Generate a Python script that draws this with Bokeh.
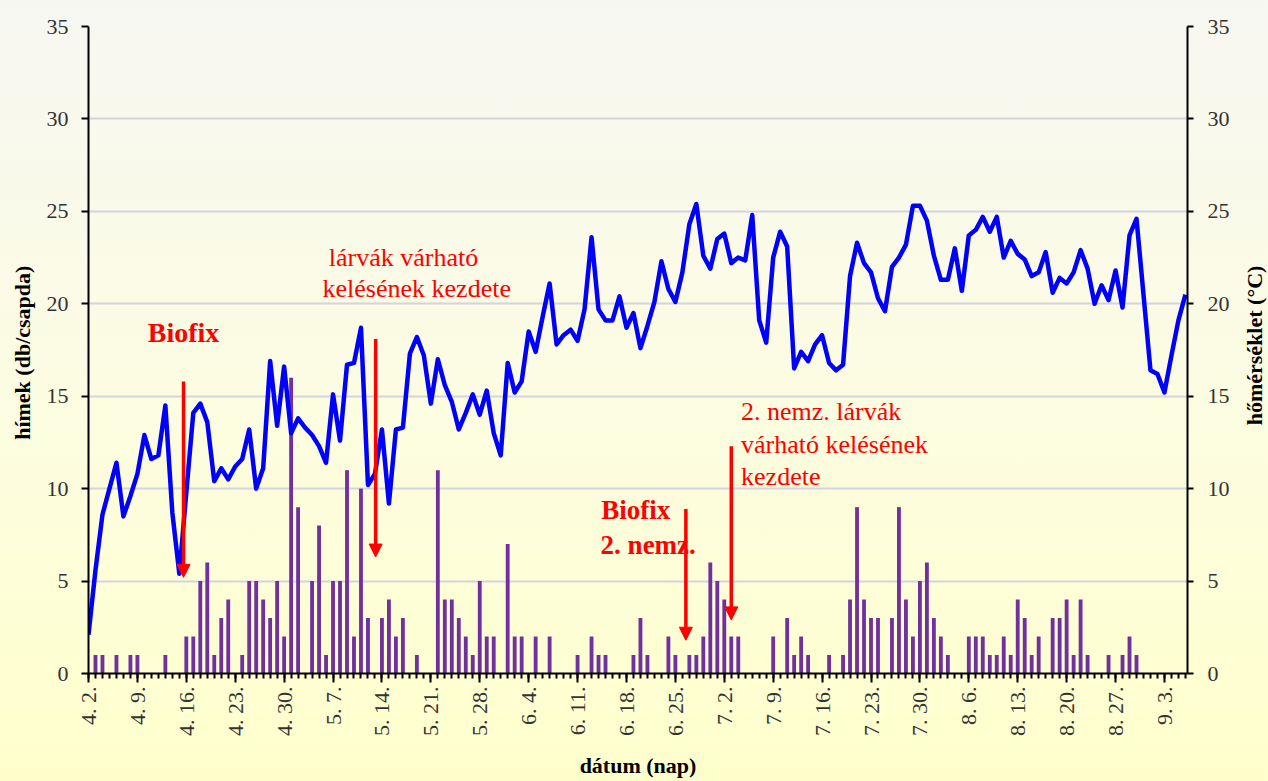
from math import pi
from bokeh.plotting import figure
from bokeh.layouts import row
from bokeh.models import Range1d, LinearAxis, FixedTicker, Label, Arrow, NormalHead
from bokeh.embed import file_html
from bokeh.resources import INLINE

# ---- data -------------------------------------------------------------
# daily mean temperature (°C), day 0 = 4.2. ... day 157 = 9.6.
temperature = [
    2.1, 5.6, 8.6, 10.0, 11.4, 8.5, 9.6, 10.8, 12.9, 11.6,
    11.8, 14.5, 8.7, 5.4, 9.8, 14.1, 14.6, 13.6, 10.4, 11.1,
    10.5, 11.2, 11.6, 13.2, 10.0, 11.1, 16.9, 13.4, 16.6, 13.0,
    13.8, 13.3, 12.9, 12.3, 11.4, 15.1, 12.6, 16.7, 16.8, 18.7,
    10.2, 10.8, 13.2, 9.2, 13.2, 13.3, 17.3, 18.2, 17.2, 14.6,
    17.0, 15.6, 14.7, 13.2, 14.1, 15.1, 14.0, 15.3, 13.0, 11.8,
    16.8, 15.2, 15.8, 18.5, 17.4, 19.3, 21.1, 17.8, 18.3, 18.6,
    18.0, 19.7, 23.6, 19.7, 19.1, 19.1, 20.4, 18.7, 19.5, 17.6,
    18.8, 20.1, 22.3, 20.8, 20.1, 21.7, 24.3, 25.4, 22.6, 21.9,
    23.5, 23.8, 22.2, 22.5, 22.35, 24.8, 19.1, 17.9, 22.5, 23.9,
    23.1, 16.5, 17.4, 16.9, 17.8, 18.3, 16.8, 16.4, 16.7, 21.5,
    23.3, 22.2, 21.7, 20.3, 19.6, 22.0, 22.5, 23.2, 25.3, 25.3,
    24.5, 22.6, 21.3, 21.3, 23.0, 20.7, 23.7, 24.0, 24.7, 23.9,
    24.7, 22.5, 23.4, 22.7, 22.4, 21.5, 21.7, 22.8, 20.6, 21.4,
    21.1, 21.7, 22.9, 21.9, 20.0, 21.0, 20.2, 21.8, 19.8, 23.7,
    24.6, 20.5, 16.4, 16.2, 15.2, 17.2, 19.1, 20.5,
]
days = list(range(len(temperature)))

# male catches per trap (only days with catches)
bar_days = [
    1, 2, 4, 6, 7, 11, 14, 15, 16, 17, 18, 19, 20, 22, 23, 24, 25, 26, 27, 28,
    29, 30, 32, 33, 34, 35, 36, 37, 38, 39, 40, 42, 43, 44, 45, 47, 50, 51, 52, 53,
    54, 55, 56, 57, 58, 60, 61, 62, 64, 66, 70, 72, 73, 74, 78, 79, 80, 83, 84, 86,
    87, 88, 89, 90, 91, 92, 93, 98, 100, 101, 102, 103, 106, 108, 109, 110, 111, 112, 113, 115,
    116, 117, 118, 119, 120, 121, 122, 123, 126, 127, 128, 129, 130, 131, 132, 133, 134, 135, 136, 138,
    139, 140, 141, 142, 143, 146, 148, 149, 150,
]
bar_counts = [
    1, 1, 1, 1, 1, 1, 2, 2, 5, 6, 1, 3, 4, 1, 5, 5, 4, 3, 5, 2,
    16, 9, 5, 8, 1, 5, 5, 11, 2, 10, 3, 3, 4, 2, 3, 1, 11, 4, 4, 3,
    2, 1, 5, 2, 2, 7, 2, 2, 2, 2, 1, 2, 1, 1, 1, 3, 1, 2, 1, 1,
    1, 2, 6, 5, 4, 2, 2, 2, 3, 1, 2, 1, 1, 1, 4, 9, 4, 3, 3, 3,
    9, 4, 2, 5, 6, 3, 2, 1, 2, 2, 2, 1, 1, 2, 1, 4, 3, 1, 2, 3,
    3, 4, 1, 4, 1, 1, 1, 2, 1,
]

tick_days = [0, 7, 14, 21, 28, 35, 42, 49, 56, 63, 70, 77, 84, 91, 98, 105,
             112, 119, 126, 133, 140, 147, 154]
tick_labels = ["4. 2.", "4. 9.", "4. 16.", "4. 23.", "4. 30.", "5. 7.", "5. 14.",
               "5. 21.", "5. 28.", "6. 4.", "6. 11.", "6. 18.", "6. 25.", "7. 2.",
               "7. 9.", "7. 16.", "7. 23.", "7. 30.", "8. 6.", "8. 13.", "8. 20.",
               "8. 27.", "9. 3."]
y_ticks = [0, 5, 10, 15, 20, 25, 30, 35]

FONT = "Liberation Serif"
RED = "#FF0000"
BG = {"background": "linear-gradient(to bottom, #F7F7F2 0%, #FCFCE2 50%, #FFFFCC 100%)"}

p = figure(width=1238, height=781, output_backend="svg", toolbar_location=None,
           x_range=Range1d(0, 157.3), y_range=Range1d(0, 35),
           min_border_left=88, min_border_right=51, min_border_top=26,
           min_border_bottom=105,
           background_fill_color=None, border_fill_color=None,
           outline_line_color=None, styles=BG)

p.extra_y_ranges = {"temp": Range1d(0, 35)}

# grid
p.xgrid.visible = False
p.ygrid.ticker = FixedTicker(ticks=y_ticks)
p.ygrid.grid_line_color = "#D4D4DE"
p.ygrid.grid_line_width = 2

# left axis
la = p.yaxis[0]
la.ticker = FixedTicker(ticks=y_ticks)
la.axis_label = "hímek  (db/csapda)"
la.axis_label_text_font = FONT
la.axis_label_text_font_style = "bold"
la.axis_label_text_font_size = "22px"
la.axis_label_text_color = "#000000"
la.axis_label_standoff = 9
la.major_label_text_font = FONT
la.major_label_text_font_size = "22px"
la.major_label_text_color = "#333333"
la.major_label_standoff = 13
la.axis_line_width = 2
la.axis_line_color = "#000000"
la.major_tick_out = 7
la.major_tick_in = 0
la.major_tick_line_width = 2
la.minor_tick_out = 0
la.minor_tick_in = 0

# right axis
ra = LinearAxis(y_range_name="temp", ticker=FixedTicker(ticks=y_ticks))
ra.major_label_text_font = FONT
ra.major_label_text_font_size = "22px"
ra.major_label_text_color = "#333333"
ra.major_label_standoff = 14
ra.axis_line_width = 2
ra.axis_line_color = "#000000"
ra.major_tick_out = 6
ra.major_tick_in = 0
ra.major_tick_line_width = 2
ra.minor_tick_out = 0
ra.minor_tick_in = 0
p.add_layout(ra, "right")

# bottom axis
xa = p.xaxis[0]
xa.ticker = FixedTicker(ticks=tick_days, minor_ticks=days)
xa.major_label_overrides = {d: t for d, t in zip(tick_days, tick_labels)}
xa.major_label_orientation = pi / 2
xa.major_label_text_font = FONT
xa.major_label_text_font_size = "22px"
xa.major_label_text_color = "#333333"
xa.major_label_standoff = 4
xa.axis_label = "dátum (nap)"
xa.axis_label_text_font = FONT
xa.axis_label_text_font_style = "bold"
xa.axis_label_text_font_size = "22px"
xa.axis_label_text_color = "#000000"
xa.axis_label_standoff = 14
xa.axis_line_width = 2
xa.axis_line_color = "#000000"
xa.major_tick_out = 9
xa.major_tick_in = 0
xa.major_tick_line_width = 2
xa.minor_tick_out = 5
xa.minor_tick_in = 0
xa.minor_tick_line_width = 2
xa.minor_tick_line_color = "#000000"

# series
p.vbar(x=bar_days, top=bar_counts, width=0.55, fill_color="#7030A0", line_color=None)
p.line(days, temperature, y_range_name="temp", line_color="#0000FF",
       line_width=4.5, line_join="round")

# annotations
def red_label(x, y, text, bold=False, align="left", size="26px"):
    p.add_layout(Label(x=x, y=y, text=text, text_color=RED, text_font=FONT,
                       text_font_size=size,
                       text_font_style="bold" if bold else "normal",
                       text_align=align, text_baseline="middle"))

red_label(13.6, 18.47, "Biofix", bold=True, align="center", size="28px")
red_label(34.4, 22.5, "lárvák várható")
red_label(33.5, 20.8, "kelésének kezdete")
red_label(73.4, 8.83, "Biofix", bold=True, size="27px")
red_label(73.3, 6.95, "2. nemz.", bold=True, size="27px")
red_label(93.4, 14.2, "2. nemz. lárvák")
red_label(93.4, 12.4, "várható kelésének")
red_label(93.4, 10.66, "kezdete")

arrows = [(13.6, 15.8, 5.2), (41.1, 18.1, 6.3), (85.5, 8.9, 1.8), (92.0, 12.3, 2.9)]
for ax_, y0, y1 in arrows:
    p.add_layout(Arrow(end=NormalHead(size=13, fill_color=RED, line_color=RED, line_width=1),
                       x_start=ax_, y_start=y0, x_end=ax_, y_end=y1,
                       line_color=RED, line_width=3.5))

# right axis title strip (text reads bottom to top, like the reference)
p2 = figure(width=30, height=781, output_backend="svg", toolbar_location=None,
            x_range=Range1d(0, 1), y_range=Range1d(0, 781), min_border=0,
            x_axis_location=None, y_axis_location=None,
            background_fill_color=None, border_fill_color=None,
            outline_line_color=None, styles=BG)
p2.grid.visible = False
p2.add_layout(Label(x=0.52, y=396, text="hőmérséklet (°C)", angle=pi / 2,
                    text_align="center", text_baseline="middle",
                    text_font=FONT, text_font_style="bold",
                    text_font_size="22px", text_color="#000000"))

layout = row(p, p2, spacing=0)
open("out.html", "w").write(file_html(layout, INLINE))
